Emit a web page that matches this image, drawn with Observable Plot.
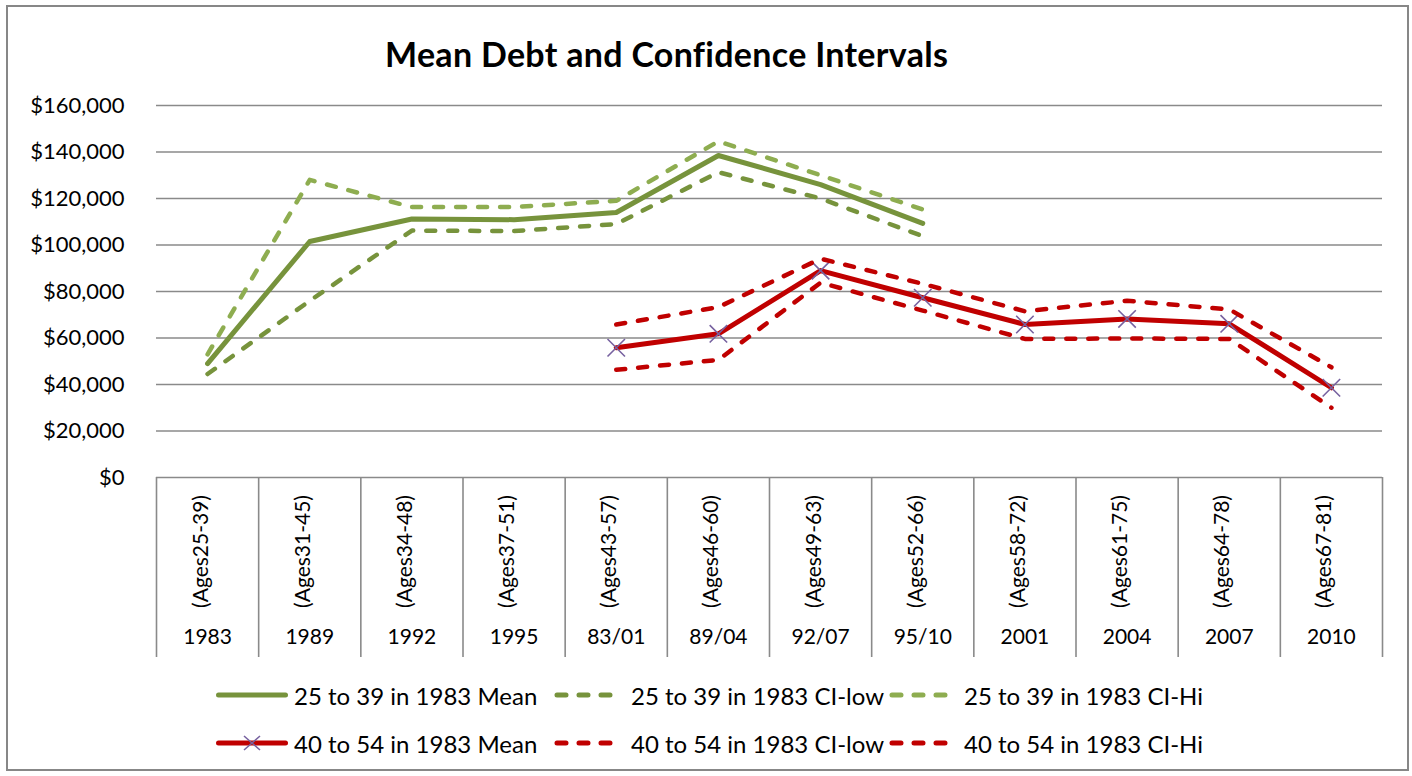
<!DOCTYPE html>
<html><head><meta charset="utf-8">
<script src="https://cdn.jsdelivr.net/npm/d3@7"></script>
<script src="https://cdn.jsdelivr.net/npm/@observablehq/plot@0.6"></script>
<style>
body{margin:0;background:#fff;font-family:Lato, sans-serif;}
#chart{position:relative;width:1412px;height:776px;overflow:hidden;background:#fff;}
#frame{position:absolute;left:6px;top:5px;width:1403px;height:766px;border:2px solid #878787;box-sizing:border-box;}
#title{position:absolute;left:385px;top:35px;font-size:34px;line-height:38px;font-weight:bold;letter-spacing:0.3px;white-space:nowrap;color:#000;}
#plot{position:absolute;left:0;top:80px;}
.leg{position:absolute;height:30px;display:flex;align-items:center;font-size:24px;white-space:nowrap;color:#000;}
.sw{position:absolute;}
</style></head>
<body>
<div id="chart">
  <div id="frame"></div>
  <div id="title">Mean Debt and Confidence Intervals</div>
  <div id="plot"></div>
</div>
<script>
const years = ["1983","1989","1992","1995","83/01","89/04","92/07","95/10","2001","2004","2007","2010"];
const ages = ["(Ages25-39)","(Ages31-45)","(Ages34-48)","(Ages37-51)","(Ages43-57)","(Ages46-60)","(Ages49-63)","(Ages52-66)","(Ages58-72)","(Ages61-75)","(Ages64-78)","(Ages67-81)"];
const greenMean = [49000,101500,111200,110900,114000,138500,126000,109300,null,null,null,null];
const greenLow  = [44500, 76000,106200,106000,109000,131300,120000,103800,null,null,null,null];
const greenHi   = [53000,128000,116300,116300,119000,144600,130000,115300,null,null,null,null];
const redMean = [null,null,null,null,55800,61800,89000,77300,65800,68200,66100,38600];
const redLow  = [null,null,null,null,46300,50600,83800,71800,59600,59800,59600,30000];
const redHi   = [null,null,null,null,65800,73300,94100,83300,71500,76000,72300,47400];
const yTicks = [0,20000,40000,60000,80000,100000,120000,140000,160000];
const seriesNames = ["25 to 39 in 1983 Mean","25 to 39 in 1983 CI-low","25 to 39 in 1983 CI-Hi","40 to 54 in 1983 Mean","40 to 54 in 1983 CI-low","40 to 54 in 1983 CI-Hi"];

const C_GREEN = "#77933C", C_GREEN_LIGHT = "#8EAD50", C_RED = "#C00000", C_MARK = "#7762A0";

function pts(vals){ return vals.map((v,i)=>({i, v})).filter(d=>d.v!=null); }
const X = d => d.i + 0.5;
const dash = "9,13";

const plot = Plot.plot({
  width:1412, height:600,
  marginTop:25, marginBottom:203, marginLeft:156, marginRight:30,
  x:{domain:[0,12], axis:null},
  y:{domain:[0,160000], axis:null},
  style:{fontFamily:"Lato, sans-serif", color:"#000", background:"transparent", overflow:"visible"},
  marks:[
    Plot.gridY(yTicks, {stroke:"#8a8a8a", strokeOpacity:1, strokeWidth:1.6}),
    Plot.axisX(d3.range(13), {tickSize:180, tickFormat:()=>"", label:null, stroke:"#8a8a8a", strokeOpacity:1, strokeWidth:1.6}),
    Plot.axisY(yTicks, {tickSize:0, tickPadding:32, label:null, tickFormat:d=>"$"+d3.format(",")(d), fontSize:22}),
    Plot.text(ages, {x:(d,i)=>i+0.5, frameAnchor:"bottom", dy:74, rotate:-90, fontSize:21, fill:"#000"}),
    Plot.text(years, {x:(d,i)=>i+0.5, frameAnchor:"bottom", dy:166, fontSize:21, fill:"#000"}),
    Plot.line(pts(greenMean), {x:X, y:"v", stroke:C_GREEN, strokeWidth:5}),
    Plot.line(pts(greenLow), {x:X, y:"v", stroke:C_GREEN, strokeWidth:4.5, strokeDasharray:dash, strokeLinecap:"round"}),
    Plot.line(pts(greenHi), {x:X, y:"v", stroke:C_GREEN_LIGHT, strokeWidth:4.5, strokeDasharray:dash, strokeLinecap:"round"}),
    Plot.line(pts(redMean), {x:X, y:"v", stroke:C_RED, strokeWidth:5}),
    Plot.dot(pts(redMean), {x:X, y:"v", symbol:"times", r:8, stroke:C_MARK, strokeWidth:1.6, fill:"none"}),
    Plot.line(pts(redLow), {x:X, y:"v", stroke:C_RED, strokeWidth:4.5, strokeDasharray:dash, strokeLinecap:"round"}),
    Plot.line(pts(redHi), {x:X, y:"v", stroke:C_RED, strokeWidth:4.5, strokeDasharray:dash, strokeLinecap:"round"})
  ]
});
document.getElementById("plot").appendChild(plot);

// legend
const legendStyles = [
  {color:C_GREEN, dashed:false, marker:false},
  {color:C_GREEN, dashed:true, marker:false},
  {color:C_GREEN_LIGHT, dashed:true, marker:false},
  {color:C_RED, dashed:false, marker:true},
  {color:C_RED, dashed:true, marker:false},
  {color:C_RED, dashed:true, marker:false}
];
const swLefts = [216, 549, 884], txtLefts = [294, 631, 964], rowYs = [695, 743];
const chart = document.getElementById("chart");
seriesNames.forEach((name, k) => {
  const col = k % 3, row = Math.floor(k / 3), s = legendStyles[k];
  const cy = rowYs[row];
  const sw = document.createElementNS("http://www.w3.org/2000/svg","svg");
  sw.setAttribute("width", 72); sw.setAttribute("height", 20);
  sw.setAttribute("class","sw");
  sw.style.left = swLefts[col] + "px"; sw.style.top = (cy - 10) + "px";
  let inner = s.dashed
    ? `<line x1="8" y1="10" x2="66" y2="10" stroke="${s.color}" stroke-width="5" stroke-dasharray="${dash}" stroke-linecap="round"/>`
    : `<line x1="2.5" y1="10" x2="69.5" y2="10" stroke="${s.color}" stroke-width="5" stroke-linecap="round"/>`;
  if (s.marker) inner += `<path d="M28,3L44,17M28,17L44,3" stroke="${C_MARK}" stroke-width="1.6"/>`;
  sw.innerHTML = inner;
  chart.appendChild(sw);
  const t = document.createElement("div");
  t.className = "leg"; t.textContent = name;
  t.style.left = txtLefts[col] + "px"; t.style.top = (cy - 15) + "px";
  chart.appendChild(t);
});
</script>
</body></html>
